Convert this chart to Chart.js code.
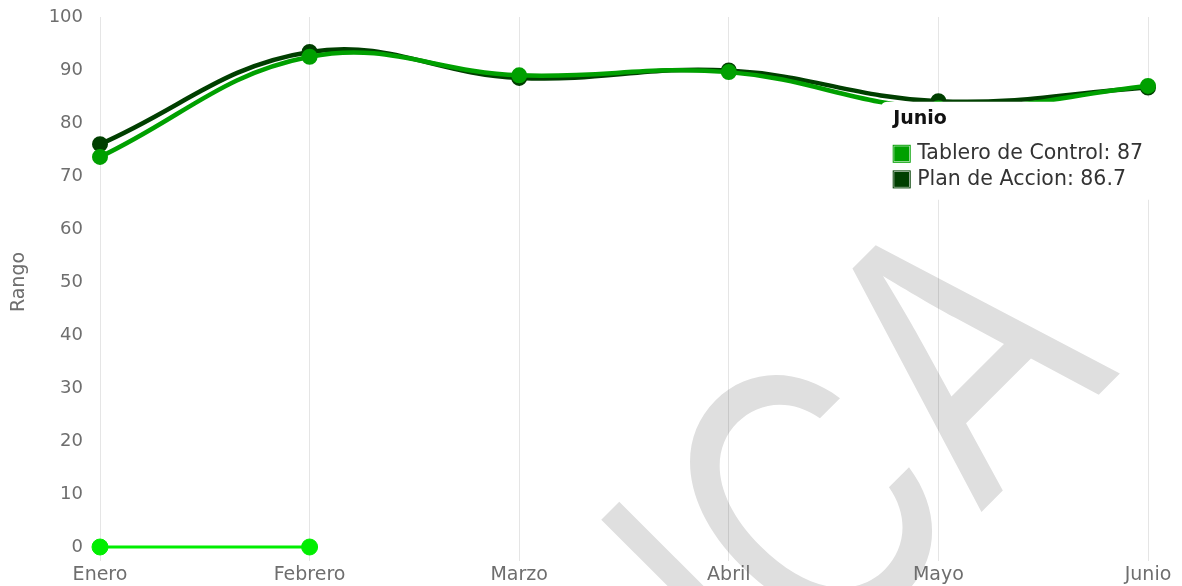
<!DOCTYPE html>
<html>
<head>
<meta charset="utf-8">
<script src="https://cdn.jsdelivr.net/npm/chart.js@4"></script>
<style>
  html, body { margin: 0; padding: 0; background: #fff; overflow: hidden; }
  #wrap { position: relative; width: 1182px; height: 586px; }
</style>
</head>
<body>
<div id="wrap"><canvas id="c" width="1182" height="586"></canvas></div>
<script>
const categories = ['Enero', 'Febrero', 'Marzo', 'Abril', 'Mayo', 'Junio'];
const tableroDeControl = [73.6, 92.5, 89, 89.6, 82.8, 87];
const planDeAccion = [76, 93.4, 88.5, 89.9, 84.1, 86.7];
const serieCero = [0, 0];
const yAxisTitle = 'Rango';
const watermarkLetters = ['I', 'C', 'A'];

const FONT = '"DejaVu Sans", sans-serif';

const watermarkPlugin = {
  id: 'watermark',
  beforeDraw(chart) {
    const ctx = chart.ctx;
    const spans = [[55, 85], [120, 316], [329, 530]];
    ctx.save();
    ctx.rotate(-Math.PI / 4);
    ctx.fillStyle = '#dfdfdf';
    ctx.font = '362px Inter, sans-serif';
    ctx.textBaseline = 'alphabetic';
    watermarkLetters.forEach((ch, i) => {
      const [l, r] = spans[i];
      const m = ctx.measureText(ch);
      const inkW = m.actualBoundingBoxLeft + m.actualBoundingBoxRight;
      const s = (r - l) / inkW;
      ctx.save();
      ctx.translate(l, 1056);
      ctx.scale(s, 1);
      ctx.fillText(ch, m.actualBoundingBoxLeft, 0);
      ctx.restore();
    });
    ctx.restore();
  }
};

const ctx = document.getElementById('c').getContext('2d');
const chart = new Chart(ctx, {
  type: 'line',
  data: {
    labels: categories,
    datasets: [
      {
        label: 'Tablero de Control',
        data: tableroDeControl,
        borderColor: '#00a000',
        backgroundColor: '#00a000',
        pointBackgroundColor: '#00a000',
        pointBorderColor: '#00a000',
        borderWidth: 4.5,
        pointRadius: 7,
        pointHoverRadius: 7,
        pointBorderWidth: 2,
        tension: 0.4,
        clip: false,
        fill: false
      },
      {
        label: 'Plan de Accion',
        data: planDeAccion,
        borderColor: '#003f00',
        backgroundColor: '#003f00',
        pointBackgroundColor: '#003f00',
        pointBorderColor: '#003f00',
        borderWidth: 4.5,
        pointRadius: 7,
        pointHoverRadius: 7,
        pointBorderWidth: 2,
        tension: 0.4,
        clip: false,
        fill: false
      },
      {
        label: '',
        data: serieCero,
        borderColor: '#00ee00',
        backgroundColor: '#00ee00',
        pointBackgroundColor: '#00ee00',
        pointBorderColor: '#00ee00',
        borderWidth: 3,
        pointRadius: 8,
        pointHoverRadius: 8,
        pointBorderWidth: 1,
        tension: 0.4,
        clip: false,
        fill: false
      }
    ]
  },
  options: {
    responsive: false,
    animation: false,
    events: [],
    layout: { autoPadding: false, padding: { top: 17, right: 34, left: 0, bottom: 0 } },
    plugins: {
      legend: { display: false },
      title: { display: false },
      tooltip: {
        enabled: true,
        mode: 'index',
        intersect: false,
        backgroundColor: '#ffffff',
        titleColor: '#111111',
        bodyColor: '#333333',
        titleFont: { family: FONT, size: 19, weight: 'bold' },
        bodyFont: { family: FONT, size: 20.5 },
        titleMarginBottom: 11,
        bodySpacing: 1,
        padding: { top: 6, bottom: 8, left: 12, right: 16 },
        boxWidth: 17,
        boxHeight: 17,
        boxPadding: 5,
        caretSize: 5,
        caretPadding: 10,
        cornerRadius: 6,
        xAlign: 'right',
        yAlign: 'top',
        displayColors: true,
        callbacks: {
          labelColor(item) {
            const c = item.dataset.borderColor;
            return { borderColor: c, backgroundColor: c, borderWidth: 0 };
          }
        }
      }
    },
    scales: {
      x: {
        grid: {
          display: true,
          color: 'rgba(0,0,0,0.1)',
          drawTicks: true,
          tickLength: 14
        },
        border: { display: false },
        ticks: {
          color: '#6e6e6e',
          font: { family: FONT, size: 19 },
          padding: 3,
          maxRotation: 0,
          autoSkip: false
        },
        afterFit(scale) { scale.height = 39; }
      },
      y: {
        min: 0,
        max: 100,
        grid: {
          display: true,
          color: 'rgba(0,0,0,0)',
          drawOnChartArea: false,
          drawTicks: true,
          tickLength: 14
        },
        border: { display: false },
        ticks: {
          stepSize: 10,
          color: '#6e6e6e',
          font: { family: FONT, size: 18 },
          padding: 3
        },
        title: {
          display: true,
          text: yAxisTitle,
          color: '#6e6e6e',
          font: { family: FONT, size: 19 },
          padding: { top: 8, bottom: 0 }
        },
        afterFit(scale) { scale.width = 100; }
      }
    }
  },
  plugins: [watermarkPlugin]
});

const act = [{ datasetIndex: 0, index: 5 }, { datasetIndex: 1, index: 5 }];
const el = chart.getDatasetMeta(0).data[5];
chart.tooltip.setActiveElements(act, { x: el.x, y: el.y });
chart.update();
</script>
</body>
</html>
